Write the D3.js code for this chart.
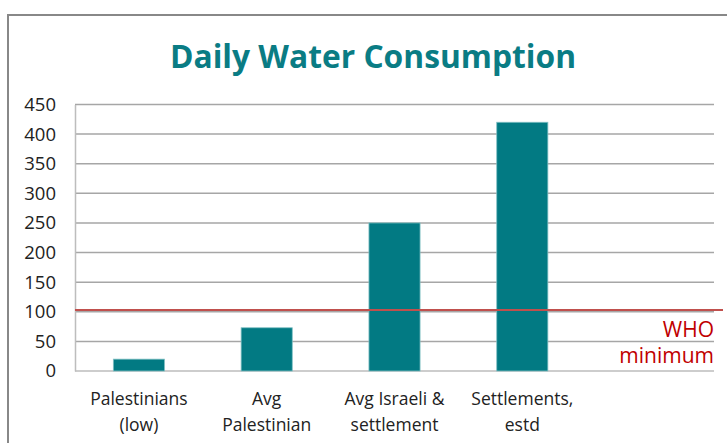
<!DOCTYPE html>
<html>
<head>
<meta charset="utf-8">
<script src="https://cdn.jsdelivr.net/npm/d3@7"></script>
<style>
  body { margin: 0; background: #fff; }
  svg text { font-family: "Open Sans", "Noto Sans", sans-serif; }
</style>
</head>
<body>
<div id="chart"></div>
<script>
// chart data
const categories = ["Palestinians (low)", "Avg Palestinian", "Avg Israeli & settlement", "Settlements, estd", ""];
const labelLines = [["Palestinians", "(low)"], ["Avg", "Palestinian"], ["Avg Israeli &", "settlement"], ["Settlements,", "estd"], []];
const litresPerDay = [20, 73, 250, 420, null];
const yTicks = [0, 50, 100, 150, 200, 250, 300, 350, 400, 450];
const whoLevel = 103;
const whoLabel = ["WHO", "minimum"];

const width = 727;
const height = 443;
const plot = { left: 75, right: 714, top: 104.5, bottom: 371 };

const svg = d3.select("#chart")
  .append("svg")
  .attr("width", width)
  .attr("height", height);

// outer frame
svg.append("rect")
  .attr("x", 8).attr("y", 15)
  .attr("width", 760).attr("height", 460)
  .attr("fill", "#fff")
  .attr("stroke", "#888")
  .attr("stroke-width", 2);

svg.append("text")
  .attr("x", 373).attr("y", 68)
  .attr("text-anchor", "middle")
  .attr("fill", "#0a7c84")
  .attr("font-size", 33)
  .attr("font-weight", "bold")
  .attr("textLength", 406)
  .attr("lengthAdjust", "spacingAndGlyphs")
  .text("Daily Water Consumption");

const x = d3.scaleBand()
  .domain(categories)
  .range([plot.left, plot.right])
  .paddingInner(0.6)
  .paddingOuter(0.3);

const y = d3.scaleLinear()
  .domain([0, 450])
  .range([plot.bottom, plot.top]);

// gridlines
svg.append("g")
  .selectAll("line")
  .data(yTicks.filter(d => d > 0))
  .join("line")
  .attr("x1", plot.left).attr("x2", plot.right)
  .attr("y1", d => y(d)).attr("y2", d => y(d))
  .attr("stroke", "#a6a6a6")
  .attr("stroke-width", 1.5);

// y axis
const yAxis = svg.append("g")
  .attr("transform", `translate(${plot.left},0)`)
  .call(d3.axisLeft(y).tickValues(yTicks).tickSize(0).tickPadding(19));
yAxis.select(".domain").attr("stroke", "#bdbdbd").attr("stroke-width", 1.5);
yAxis.selectAll("text")
  .attr("font-size", 18.5)
  .attr("fill", "#222");

// baseline
svg.append("line")
  .attr("x1", plot.left).attr("x2", plot.right)
  .attr("y1", y(0)).attr("y2", y(0))
  .attr("stroke", "#bdbdbd")
  .attr("stroke-width", 1.5);

// bars
svg.append("g")
  .selectAll("rect")
  .data(categories.map((c, i) => ({ c, v: litresPerDay[i] })).filter(d => d.v != null))
  .join("rect")
  .attr("x", d => x(d.c))
  .attr("width", x.bandwidth())
  .attr("y", d => y(d.v))
  .attr("height", d => y(0) - y(d.v))
  .attr("fill", "#027a83")
  .attr("stroke", "#7fbfc3")
  .attr("stroke-width", 0.8);

// category labels
const xLabels = svg.append("g")
  .selectAll("text")
  .data(categories.map((c, i) => ({ c, lines: labelLines[i] })))
  .join("text")
  .attr("x", d => x(d.c) + x.bandwidth() / 2)
  .attr("y", 405)
  .attr("text-anchor", "middle")
  .attr("font-size", 17.5)
  .attr("fill", "#222");
xLabels.selectAll("tspan")
  .data(d => d.lines.map(t => ({ t, x: x(d.c) + x.bandwidth() / 2 })))
  .join("tspan")
  .attr("x", d => d.x)
  .attr("dy", (d, i) => i === 0 ? 0 : 26)
  .text(d => d.t);

// WHO line
svg.append("line")
  .attr("x1", plot.left).attr("x2", 723)
  .attr("y1", y(whoLevel)).attr("y2", y(whoLevel))
  .attr("stroke", "#c0504d")
  .attr("stroke-width", 2);

svg.append("g")
  .selectAll("text")
  .data(whoLabel)
  .join("text")
  .attr("x", 714)
  .attr("y", (d, i) => 337 + i * 26)
  .attr("text-anchor", "end")
  .attr("font-size", 21)
  .attr("fill", "#c00000")
  .text(d => d);
</script>
</body>
</html>
